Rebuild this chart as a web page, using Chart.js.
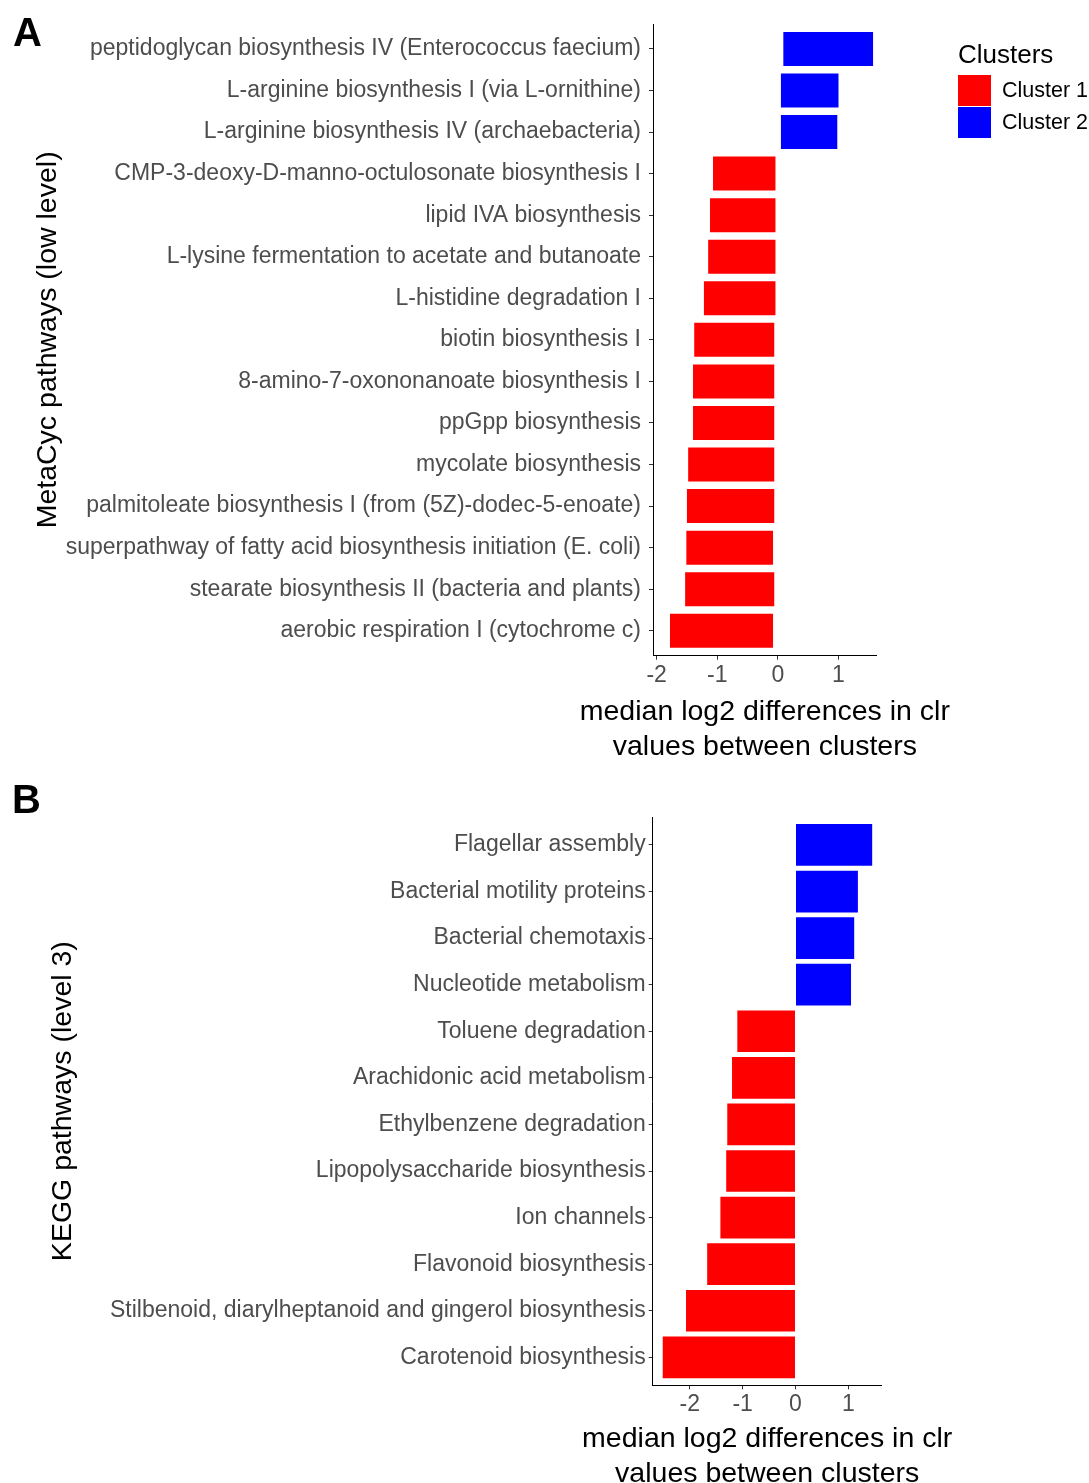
<!DOCTYPE html>
<html>
<head>
<meta charset="utf-8">
<title>Pathway differences between clusters</title>
<script src="https://cdn.jsdelivr.net/npm/chart.js@4.4.1/dist/chart.umd.min.js"></script>
<style>
  body { margin: 0; background: #fff; overflow: hidden; }
  .panel { position: absolute; left: 0; }
  #wrapA { top: 0; }
  #wrapB { top: 775px; }
</style>
</head>
<body>
<div class="panel" id="wrapA"><canvas id="chartA" width="1089" height="775"></canvas></div>
<div class="panel" id="wrapB"><canvas id="chartB" width="1089" height="720"></canvas></div>
<script>
// Panel A - MetaCyc pathways, top to bottom
const pathwaysA = [
  "peptidoglycan biosynthesis IV (Enterococcus faecium)",
  "L-arginine biosynthesis I (via L-ornithine)",
  "L-arginine biosynthesis IV (archaebacteria)",
  "CMP-3-deoxy-D-manno-octulosonate biosynthesis I",
  "lipid IVA biosynthesis",
  "L-lysine fermentation to acetate and butanoate",
  "L-histidine degradation I",
  "biotin biosynthesis I",
  "8-amino-7-oxononanoate biosynthesis I",
  "ppGpp biosynthesis",
  "mycolate biosynthesis",
  "palmitoleate biosynthesis I (from (5Z)-dodec-5-enoate)",
  "superpathway of fatty acid biosynthesis initiation (E. coli)",
  "stearate biosynthesis II (bacteria and plants)",
  "aerobic respiration I (cytochrome c)"
];
const clusterA = [2, 2, 2, 1, 1, 1, 1, 1, 1, 1, 1, 1, 1, 1, 1];
// bars in panel A start slightly off zero, so keep both ends
const startA = [0.09, 0.05, 0.05, -1.07, -1.12, -1.15, -1.22, -1.38, -1.40, -1.40, -1.48, -1.50, -1.51, -1.53, -1.78];
const endA = [1.57, 1.00, 0.98, -0.04, -0.04, -0.04, -0.04, -0.06, -0.06, -0.06, -0.06, -0.06, -0.08, -0.06, -0.08];
const xTicksA = [-2, -1, 0, 1];

// Panel B - KEGG pathways, top to bottom
const pathwaysB = [
  "Flagellar assembly",
  "Bacterial motility proteins",
  "Bacterial chemotaxis",
  "Nucleotide metabolism",
  "Toluene degradation",
  "Arachidonic acid metabolism",
  "Ethylbenzene degradation",
  "Lipopolysaccharide biosynthesis",
  "Ion channels",
  "Flavonoid biosynthesis",
  "Stilbenoid, diarylheptanoid and gingerol biosynthesis",
  "Carotenoid biosynthesis"
];
const clusterB = [2, 2, 2, 2, 1, 1, 1, 1, 1, 1, 1, 1];
const valuesB = [1.45, 1.18, 1.11, 1.05, -1.10, -1.20, -1.29, -1.31, -1.42, -1.67, -2.07, -2.51];
const xTicksB = [-2, -1, 0, 1];

const clusterNames = ["Cluster 1", "Cluster 2"];
const clusterColors = ["#ff0000", "#0000ff"];
const xTitle = ["median log2 differences in clr", "values between clusters"];

const FONT = '"Liberation Sans", Arial, Helvetica, sans-serif';

function buildDatasets(clusters, valueAt, barPct) {
  return clusterNames.map((name, c) => ({
    label: name,
    backgroundColor: clusterColors[c],
    borderWidth: 0,
    grouped: false,
    categoryPercentage: 1,
    barPercentage: barPct,
    data: clusters
      .map((cl, i) => (cl === c + 1 ? { y: i, x: valueAt(i) } : null))
      .filter(Boolean)
  }));
}

// panel letter, x axis title (two lines, centred on the plot) and legend
function overlayPlugin(letter, lx, ly, titleY, withLegend) {
  return {
    id: 'overlay' + letter,
    afterDraw(chart) {
      const ctx = chart.ctx;
      const area = chart.chartArea;
      ctx.save();
      ctx.fillStyle = '#000';
      ctx.textBaseline = 'alphabetic';
      ctx.textAlign = 'left';
      ctx.font = 'bold 40px ' + FONT;
      ctx.fillText(letter, lx, ly);

      ctx.textAlign = 'center';
      ctx.font = '28.5px ' + FONT;
      const cx = (area.left + area.right) / 2;
      xTitle.forEach((line, i) => ctx.fillText(line, cx, titleY + i * 35));

      if (withLegend) {
        ctx.textAlign = 'left';
        ctx.font = '26px ' + FONT;
        ctx.fillText('Clusters', 958, 63);
        chart.data.datasets.forEach((ds, i) => {
          const y = 75 + i * 32;
          ctx.fillStyle = ds.backgroundColor;
          ctx.fillRect(958, y, 33, 31);
          ctx.fillStyle = '#000';
          ctx.font = '21.5px ' + FONT;
          ctx.fillText(ds.label, 1002, y + 22);
        });
      }
      ctx.restore();
    }
  };
}

function panelOptions(cfg) {
  return {
    indexAxis: 'y',
    responsive: false,
    animation: false,
    layout: { padding: { left: 0, top: cfg.top, right: cfg.right, bottom: 0 } },
    plugins: { legend: { display: false }, tooltip: { enabled: false } },
    scales: {
      x: {
        type: 'linear',
        bounds: 'data',
        min: cfg.xMin,
        max: cfg.xMax,
        afterBuildTicks: s => { s.ticks = cfg.xTicks.map(v => ({ value: v })); },
        afterFit: s => { s.height = cfg.xHeight; },
        border: { display: true, color: '#000', width: 1 },
        grid: { drawOnChartArea: false, drawTicks: true, tickLength: 4, tickColor: '#333' },
        ticks: { color: '#4d4d4d', font: { family: FONT, size: 23 }, padding: 2, maxRotation: 0, autoSkip: false }
      },
      y: {
        type: 'linear',
        bounds: 'data',
        offset: false,
        reverse: true,
        min: -0.6,
        max: cfg.cats.length - 1 + 0.6,
        afterBuildTicks: s => { s.ticks = cfg.cats.map((_, i) => ({ value: i })); },
        afterFit: s => { s.width = cfg.yWidth; },
        border: { display: true, color: '#000', width: 1 },
        grid: { offset: false, drawOnChartArea: false, drawTicks: true, tickLength: 4, tickColor: '#333' },
        ticks: {
          autoSkip: false,
          color: '#4d4d4d',
          font: { family: FONT, size: 23 },
          padding: cfg.labelPad,
          callback: v => cfg.cats[v]
        },
        title: {
          display: true,
          text: cfg.yTitle,
          color: '#000',
          font: { family: FONT, size: 28.5, lineHeight: 1.2 },
          padding: { top: cfg.yTitlePad, bottom: 0 }
        }
      }
    }
  };
}

new Chart(document.getElementById('chartA'), {
  type: 'bar',
  data: { datasets: buildDatasets(clusterA, i => [startA[i], endA[i]], 0.818) },
  options: panelOptions({
    cats: pathwaysA,
    yTitle: 'MetaCyc pathways (low level)',
    xTicks: xTicksA,
    xMin: -2.06, xMax: 1.63,
    top: 24, right: 1089 - 876.7,
    yWidth: 653, xHeight: 775 - 655.7,
    labelPad: 8, yTitlePad: 31.4
  }),
  plugins: [overlayPlugin('A', 13, 46, 720, true)]
});

new Chart(document.getElementById('chartB'), {
  type: 'bar',
  data: { datasets: buildDatasets(clusterB, i => valuesB[i], 0.895) },
  options: panelOptions({
    cats: pathwaysB,
    yTitle: 'KEGG pathways (level 3)',
    xTicks: xTicksB,
    xMin: -2.70, xMax: 1.63,
    top: 42, right: 1089 - 881.7,
    yWidth: 652.7, xHeight: 720 - 610.3,
    labelPad: 3, yTitlePad: 46.4
  }),
  plugins: [overlayPlugin('B', 12, 38, 1447 - 775, false)]
});
</script>
</body>
</html>
